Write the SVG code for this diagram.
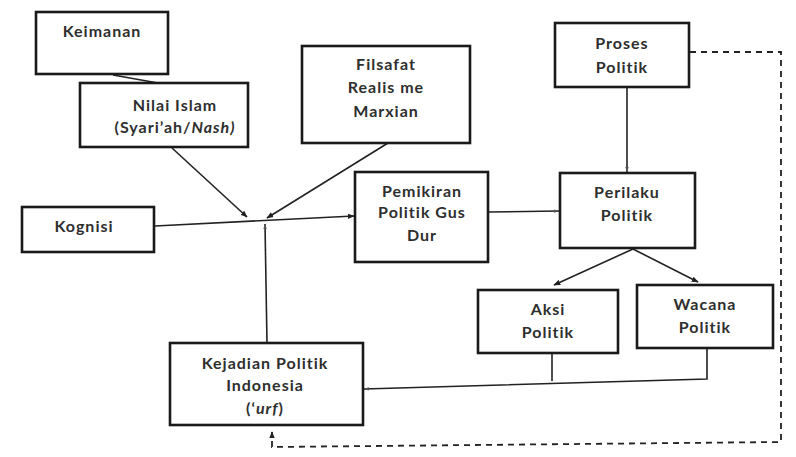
<svg xmlns="http://www.w3.org/2000/svg" width="796" height="457" viewBox="0 0 796 457">
<style>
.box{fill:#fff;stroke:#1a1a1a;stroke-width:2.6}
.t{font-family:Lato,"Open Sans",sans-serif;font-size:16px;font-weight:bold;fill:#2e2e2e;text-anchor:middle;letter-spacing:1px}
.c{fill:none;stroke:#222;stroke-width:1.6}
.d{fill:none;stroke:#222;stroke-width:1.8;stroke-dasharray:6 5}
</style>
<defs>
<marker id="a" viewBox="0 0 10 10" refX="9" refY="5" markerWidth="7" markerHeight="7" orient="auto" markerUnits="userSpaceOnUse"><path d="M0,1 L10,5 L0,9 z" fill="#222"/></marker>
<marker id="s" viewBox="0 0 10 10" refX="9" refY="5" markerWidth="6" markerHeight="6" orient="auto" markerUnits="userSpaceOnUse"><path d="M0,2 L10,5 L0,8 z" fill="#555"/></marker>
</defs>
<rect width="796" height="457" fill="#fff"/>
<g id="connectors">
<line class="c" x1="113" y1="75" x2="158" y2="83"/>
<line class="c" x1="172" y1="148" x2="247" y2="217" marker-end="url(#a)"/>
<line class="c" x1="388" y1="143" x2="267" y2="218" marker-end="url(#a)"/>
<line class="c" x1="155" y1="226" x2="354" y2="216" marker-end="url(#a)"/>
<line class="c" x1="267" y1="343" x2="265" y2="224" marker-end="url(#s)"/>
<line class="c" x1="488" y1="212" x2="559" y2="211" marker-end="url(#s)"/>
<line class="c" x1="627" y1="88" x2="627" y2="172" marker-end="url(#s)"/>
<line class="c" x1="633" y1="249" x2="554" y2="285" marker-end="url(#a)"/>
<line class="c" x1="633" y1="249" x2="698" y2="282" marker-end="url(#a)"/>
<polyline class="c" points="552,354 552,381"/>
<polyline class="c" points="707,349 707,379 364,389" marker-end="url(#s)"/>
<polyline class="d" points="690,52 781,52 781,442 272,447 272,432" marker-end="url(#a)"/>
</g>
<g id="keimanan"><rect class="box" x="36" y="12" width="132" height="62"/><text class="t" x="102" y="37">Keimanan</text></g>
<g id="nilai-islam"><rect class="box" x="80" y="83" width="168" height="64"/><text class="t" x="175" y="111">Nilai Islam</text><text class="t" x="175" y="133">(Syari’ah/<tspan font-style="italic">Nash)</tspan></text></g>
<g id="filsafat"><rect class="box" x="302" y="46" width="168" height="97"/><text class="t" x="386" y="70">Filsafat</text><text class="t" x="386" y="93">Realis me</text><text class="t" x="386" y="117">Marxian</text></g>
<g id="proses"><rect class="box" x="555" y="23" width="134" height="64"/><text class="t" x="622" y="49">Proses</text><text class="t" x="622" y="73">Politik</text></g>
<g id="kognisi"><rect class="box" x="22" y="207" width="132" height="45"/><text class="t" x="84" y="232">Kognisi</text></g>
<g id="pemikiran"><rect class="box" x="355" y="172" width="133" height="90"/><text class="t" x="422" y="197">Pemikiran</text><text class="t" x="422" y="218">Politik Gus</text><text class="t" x="422" y="241">Dur</text></g>
<g id="perilaku"><rect class="box" x="560" y="173" width="135" height="75"/><text class="t" x="627" y="198">Perilaku</text><text class="t" x="627" y="221">Politik</text></g>
<g id="aksi"><rect class="box" x="478" y="290" width="140" height="63"/><text class="t" x="548" y="315">Aksi</text><text class="t" x="548" y="338">Politik</text></g>
<g id="wacana"><rect class="box" x="637" y="285" width="136" height="63"/><text class="t" x="705" y="310">Wacana</text><text class="t" x="705" y="333">Politik</text></g>
<g id="kejadian"><rect class="box" x="170" y="343" width="193" height="82"/><text class="t" x="265" y="369">Kejadian Politik</text><text class="t" x="265" y="391">Indonesia</text><text class="t" x="265" y="414">(‘<tspan font-style="italic">urf</tspan>)</text></g>
</svg>
